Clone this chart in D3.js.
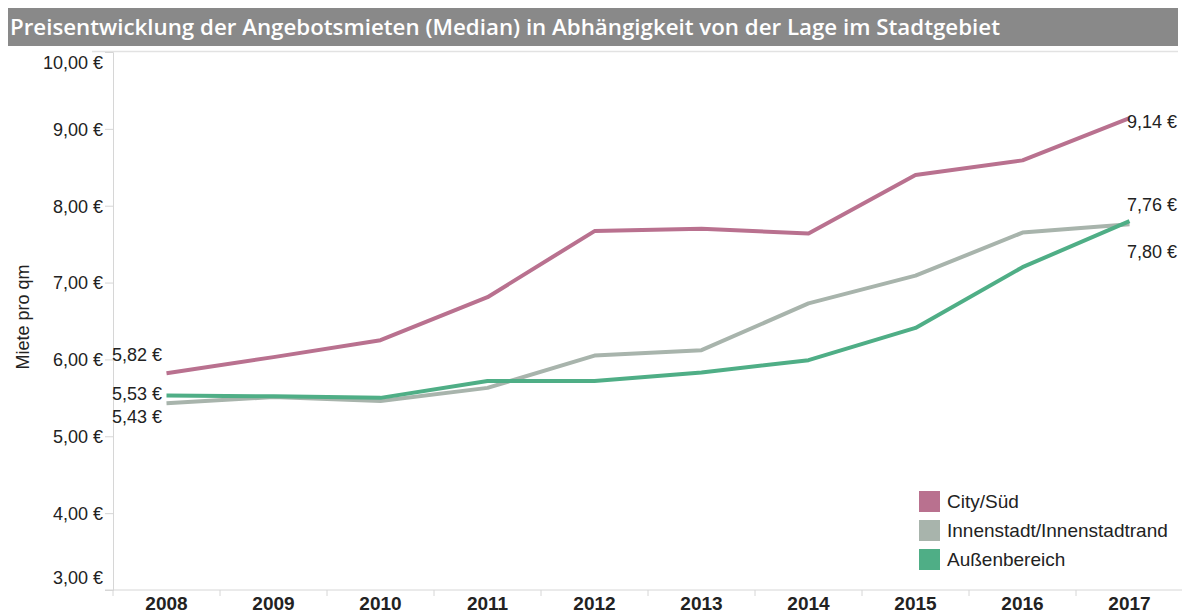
<!DOCTYPE html>
<html>
<head>
<meta charset="UTF-8">
<title></title>
<script src="https://cdn.jsdelivr.net/npm/d3@7"></script>
<style>
  body { margin: 0; background: #fff; }
  text { font-family: "Liberation Sans", Arial, sans-serif; }
</style>
</head>
<body>
<script>
var years = ["2008","2009","2010","2011","2012","2013","2014","2015","2016","2017"];
var citySued = [5.82, 6.03, 6.25, 6.81, 7.67, 7.70, 7.64, 8.40, 8.59, 9.14];
var innenstadt = [5.43, 5.51, 5.46, 5.63, 6.05, 6.12, 6.73, 7.09, 7.65, 7.76];
var aussen = [5.53, 5.52, 5.50, 5.72, 5.72, 5.83, 5.99, 6.41, 7.20, 7.80];
var seriesNames = ["City/Süd", "Innenstadt/Innenstadtrand", "Außenbereich"];
var yTicks = [3, 4, 5, 6, 7, 8, 9, 10];

var colors = ["#b9718f", "#a8b4ac", "#4fae86"];
var allSeries = [citySued, innenstadt, aussen];

var W = 1182, H = 614;
var svg = d3.select("body").append("svg")
    .attr("width", W)
    .attr("height", H);

// title bar
svg.append("rect").attr("x", 8).attr("y", 8).attr("width", 1170).attr("height", 38)
    .attr("fill", "#898989");
svg.append("text").attr("x", 10).attr("y", 35)
    .attr("fill", "#fff")
    .style("font-family", "'Open Sans', 'Noto Sans', sans-serif")
    .style("font-weight", "600")
    .style("font-size", "22.3px")
    .text("Preisentwicklung der Angebotsmieten (Median) in Abhängigkeit von der Lage im Stadtgebiet");

svg.append("line").attr("x1", 92).attr("x2", 1178).attr("y1", 51.5).attr("y2", 51.5)
    .attr("stroke", "#e2e2e2").attr("stroke-width", 1.5);

var x = d3.scaleBand().domain(years).range([113, 1183]);
var y = d3.scaleLinear().domain([3, 10]).range([590, 52]);

// y axis
var yAxis = svg.append("g").attr("transform", "translate(113,0)")
    .call(d3.axisLeft(y).tickValues(yTicks).tickSize(8).tickPadding(2)
        .tickFormat(function(d){ return d3.format(".2f")(d).replace(".", ",") + " €"; }));
yAxis.select(".domain").attr("stroke", "#d6d6d6");
yAxis.selectAll(".tick line").attr("stroke", "#d6d6d6");
yAxis.selectAll(".tick text").style("font-size", "18px").attr("fill", "#222")
    .style("font-family", "'Liberation Sans', Arial, sans-serif")
    .attr("dy", function(d){ return d === 10 ? "0.92em" : (d === 3 ? "-0.35em" : "0.35em"); });

// x axis
var xAxis = svg.append("g").attr("transform", "translate(0,590)")
    .call(d3.axisBottom(x).tickSize(0).tickPadding(7));
xAxis.select(".domain").attr("stroke", "#d6d6d6").attr("d", "M105,0H1183");
xAxis.selectAll(".tick text").style("font-size", "19px").style("font-weight", "bold").attr("fill", "#222")
    .style("font-family", "'Liberation Sans', Arial, sans-serif");
xAxis.selectAll(".sep").data(years).enter().append("line")
    .attr("x1", function(d){ return x(d); }).attr("x2", function(d){ return x(d); })
    .attr("y1", 0).attr("y2", 6).attr("stroke", "#d6d6d6");

svg.append("text")
    .attr("transform", "translate(29,317) rotate(-90)")
    .attr("text-anchor", "middle")
    .style("font-size", "18px").attr("fill", "#222")
    .text("Miete pro qm");

// lines
var line = d3.line()
    .x(function(d, i){ return x(years[i]) + x.bandwidth() / 2; })
    .y(function(d){ return y(d); });

svg.selectAll(".series").data([innenstadt, aussen, citySued]).enter().append("path")
    .attr("d", line)
    .attr("fill", "none")
    .attr("stroke", function(d){ return colors[allSeries.indexOf(d)]; })
    .attr("stroke-width", 4)
    .attr("stroke-linejoin", "round");

// value labels
function fmt(v){ return d3.format(".2f")(v).replace(".", ",") + " €"; }
var startLabels = [
  {v: citySued[0], dy: -17},
  {v: aussen[0], dy: -0.5},
  {v: innenstadt[0], dy: 15}
];
svg.selectAll(".slab").data(startLabels).enter().append("text")
    .attr("x", 112)
    .attr("y", function(d){ return y(d.v) + d.dy + 5; })
    .style("font-size", "18px").attr("fill", "#222")
    .text(function(d){ return fmt(d.v); });

var endLabels = [
  {v: citySued[9], yv: citySued[9], dy: 5},
  {v: innenstadt[9], yv: innenstadt[9], dy: -18},
  {v: aussen[9], yv: aussen[9], dy: 32}
];
svg.selectAll(".elab").data(endLabels).enter().append("text")
    .attr("x", 1127)
    .attr("y", function(d){ return y(d.yv) + d.dy + 5; })
    .style("font-size", "18px").attr("fill", "#222")
    .text(function(d){ return fmt(d.v); });

// legend
var legend = svg.append("g").attr("transform", "translate(919,491)");
var items = legend.selectAll("g").data(seriesNames).enter().append("g")
    .attr("transform", function(d, i){ return "translate(0," + (i * 29) + ")"; });
items.append("rect").attr("width", 21).attr("height", 21)
    .attr("fill", function(d, i){ return colors[i]; });
items.append("text").attr("x", 28).attr("y", 17)
    .style("font-size", "19px").attr("fill", "#222")
    .text(function(d){ return d; });
</script>
</body>
</html>
